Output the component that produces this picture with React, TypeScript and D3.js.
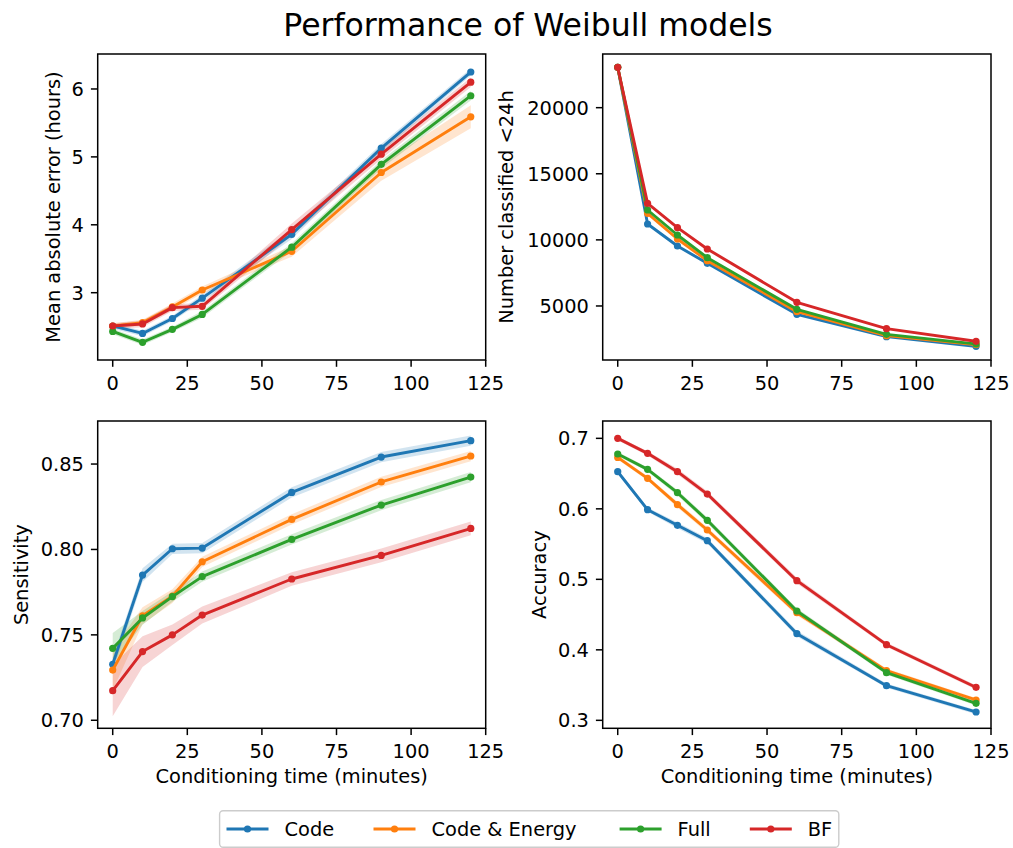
import React from 'react';
import * as d3 from 'd3';

const times = [0, 10, 20, 30, 60, 90, 120];
const seriesNames = ['Code', 'Code & Energy', 'Full', 'BF'];
const colors = ['#1f77b4', '#ff7f0e', '#2ca02c', '#d62728'];
const xTicks = [0, 25, 50, 75, 100, 125];

// Mean absolute error (hours)
const maeCode = [2.51, 2.40, 2.62, 2.92, 3.86, 5.13, 6.25];
const maeEnergy = [2.51, 2.56, 2.79, 3.04, 3.61, 4.77, 5.59];
const maeFull = [2.43, 2.27, 2.46, 2.68, 3.67, 4.89, 5.90];
const maeBF = [2.51, 2.54, 2.78, 2.80, 3.93, 5.04, 6.10];
const maeCodeErr = [0.04, 0.04, 0.04, 0.05, 0.07, 0.06, 0.05];
const maeEnergyErr = [0.04, 0.04, 0.05, 0.05, 0.08, 0.12, 0.17];
const maeFullErr = [0.04, 0.04, 0.04, 0.05, 0.06, 0.06, 0.07];
const maeBFErr = [0.04, 0.05, 0.05, 0.05, 0.09, 0.07, 0.07];
const maeTicks = [3, 4, 5, 6];

// Number classified <24h
const numCode = [23050, 11200, 9536, 8225, 4367, 2678, 1947];
const numEnergy = [23050, 12007, 10066, 8427, 4569, 2753, 2073];
const numFull = [23050, 12259, 10368, 8654, 4745, 2854, 2123];
const numBF = [23050, 12763, 10923, 9309, 5275, 3283, 2325];
const numErr = [60, 60, 60, 60, 50, 40, 40];
const numTicks = [5000, 10000, 15000, 20000];

// Sensitivity
const senCode = [0.7328, 0.7850, 0.8004, 0.8008, 0.8334, 0.8541, 0.8637];
const senEnergy = [0.7294, 0.7612, 0.7727, 0.7928, 0.8176, 0.8395, 0.8547];
const senFull = [0.7421, 0.7599, 0.7724, 0.7841, 0.8059, 0.8260, 0.8424];
const senBF = [0.7173, 0.7402, 0.7500, 0.7616, 0.7827, 0.7965, 0.8123];
const senCodeErr = [0.004, 0.004, 0.003, 0.003, 0.003, 0.003, 0.003];
const senEnergyErr = [0.012, 0.005, 0.004, 0.003, 0.003, 0.003, 0.003];
const senFullErr = [0.009, 0.004, 0.003, 0.003, 0.003, 0.003, 0.003];
const senBFErr = [0.015, 0.009, 0.006, 0.005, 0.004, 0.004, 0.004];
const senTicks = [0.70, 0.75, 0.80, 0.85];

// Accuracy
const accCode = [0.6527, 0.5988, 0.5766, 0.5548, 0.4229, 0.3492, 0.3118];
const accEnergy = [0.6730, 0.6433, 0.6059, 0.5700, 0.4527, 0.3705, 0.3288];
const accFull = [0.6778, 0.6560, 0.6229, 0.5837, 0.4551, 0.3676, 0.3241];
const accBF = [0.7000, 0.6787, 0.6527, 0.6210, 0.4981, 0.4073, 0.3468];
const accErr = [0.003, 0.003, 0.004, 0.004, 0.004, 0.003, 0.003];
const accTicks = [0.3, 0.4, 0.5, 0.6, 0.7];

const FONT = 'DejaVu Sans';
const TICK_FS = 19.4;

type Panel = {
  box: [number, number, number, number];
  yDomain: [number, number];
  yTicks: number[];
  fmt: (v: number) => string;
  yLabel: string;
  yLabelX: number;
  xLabel: boolean;
  series: number[][];
  errs: number[][];
};

const panels: Panel[] = [
  {
    box: [97.7, 54, 485.7, 360],
    yDomain: [2.009, 6.515],
    yTicks: maeTicks,
    fmt: (v) => d3.format('d')(v),
    yLabel: 'Mean absolute error (hours)',
    yLabelX: 59.5,
    xLabel: false,
    series: [maeCode, maeEnergy, maeFull, maeBF],
    errs: [maeCodeErr, maeEnergyErr, maeFullErr, maeBFErr],
  },
  {
    box: [602.7, 54, 991, 360],
    yDomain: [913, 24060],
    yTicks: numTicks,
    fmt: (v) => d3.format('d')(v),
    yLabel: 'Number classified <24h',
    yLabelX: 513,
    xLabel: false,
    series: [numCode, numEnergy, numFull, numBF],
    errs: [numErr, numErr, numErr, numErr],
  },
  {
    box: [97.7, 421, 485.7, 728.3],
    yDomain: [0.6953, 0.8752],
    yTicks: senTicks,
    fmt: (v) => d3.format('.2f')(v),
    yLabel: 'Sensitivity',
    yLabelX: 27.5,
    xLabel: true,
    series: [senCode, senEnergy, senFull, senBF],
    errs: [senCodeErr, senEnergyErr, senFullErr, senBFErr],
  },
  {
    box: [602.7, 421, 991, 728.3],
    yDomain: [0.2887, 0.7246],
    yTicks: accTicks,
    fmt: (v) => d3.format('.1f')(v),
    yLabel: 'Accuracy',
    yLabelX: 546,
    xLabel: true,
    series: [accCode, accEnergy, accFull, accBF],
    errs: [accErr, accErr, accErr, accErr],
  },
];

function PanelView({ p }: { p: Panel }) {
  const [l, t, r, b] = p.box;
  const x = d3.scaleLinear().domain([-5.03, 125]).range([l, r]);
  const y = d3.scaleLinear().domain(p.yDomain).range([b, t]);
  const line = d3
    .line<number>()
    .x((_, i) => x(times[i]))
    .y((d) => y(d));
  const cy = (t + b) / 2;
  const cx = (l + r) / 2;
  const clipId = `clip-${Math.round(l)}-${Math.round(t)}`;
  return (
    <g>
      <defs>
        <clipPath id={clipId}>
          <rect x={l} y={t} width={r - l} height={b - t} />
        </clipPath>
      </defs>
      <g clipPath={`url(#${clipId})`}>
        {p.series.map((s, si) => {
          const e = p.errs[si];
          const area = d3
            .area<number>()
            .x((_, i) => x(times[i]))
            .y0((d, i) => y(d - e[i]))
            .y1((d, i) => y(d + e[i]));
          return (
            <path key={'a' + si} d={area(s) || ''} fill={colors[si]} fillOpacity={0.2} stroke="none" />
          );
        })}
        {p.series.map((s, si) => (
          <g key={'l' + si}>
            <path d={line(s) || ''} fill="none" stroke={colors[si]} strokeWidth={2.9} strokeLinejoin="round" strokeLinecap="square" />
            {s.map((v, i) => (
              <circle key={i} cx={x(times[i])} cy={y(v)} r={3.6} fill={colors[si]} />
            ))}
          </g>
        ))}
      </g>
      <rect x={l} y={t} width={r - l} height={b - t} fill="none" stroke="#000" strokeWidth={1.5} />
      {xTicks.map((tk) => (
        <g key={'xt' + tk}>
          <line x1={x(tk)} x2={x(tk)} y1={b} y2={b + 6.8} stroke="#000" strokeWidth={1.5} />
          <text x={x(tk)} y={b + 29.5} textAnchor="middle" fontSize={TICK_FS} fontFamily={FONT} fill="#000">
            {tk}
          </text>
        </g>
      ))}
      {p.yTicks.map((tk) => (
        <g key={'yt' + tk}>
          <line x1={l - 6.8} x2={l} y1={y(tk)} y2={y(tk)} stroke="#000" strokeWidth={1.5} />
          <text x={l - 13.8} y={y(tk)} dy="0.36em" textAnchor="end" fontSize={TICK_FS} fontFamily={FONT} fill="#000">
            {p.fmt(tk)}
          </text>
        </g>
      ))}
      <text
        transform={`translate(${p.yLabelX},${cy}) rotate(-90)`}
        textAnchor="middle"
        fontSize={TICK_FS}
        fontFamily={FONT}
        fill="#000"
      >
        {p.yLabel}
      </text>
      {p.xLabel && (
        <text x={cx} y={783} textAnchor="middle" fontSize={TICK_FS} fontFamily={FONT} fill="#000">
          Conditioning time (minutes)
        </text>
      )}
    </g>
  );
}

const legendLineX = [226.5, 373.5, 619.6, 749.8];
const LEG_Y = 829;

function Legend() {
  return (
    <g>
      <rect x={219.6} y={810.8} width={619.2} height={36.4} rx={3.5} fill="#fff" fillOpacity={0.8} stroke="#cccccc" strokeWidth={1.4} />
      {seriesNames.map((n, i) => {
        const lx = legendLineX[i];
        return (
          <g key={n}>
            <line x1={lx} x2={lx + 42} y1={LEG_Y} y2={LEG_Y} stroke={colors[i]} strokeWidth={2.9} />
            <circle cx={lx + 21} cy={LEG_Y} r={3.6} fill={colors[i]} />
            <text x={lx + 58} y={LEG_Y + 7} fontSize={TICK_FS} fontFamily={FONT} fill="#000">
              {n}
            </text>
          </g>
        );
      })}
    </g>
  );
}

export default function App() {
  return (
    <svg
      width={1013}
      height={848}
      viewBox="0 0 1013 848"
      style={{ position: 'absolute', left: 0, top: 0, background: '#fff' }}
    >
      <rect x={0} y={0} width={1013} height={848} fill="#fff" />
      <text x={528} y={36} textAnchor="middle" fontSize={31.5} fontFamily={FONT} fill="#000">
        Performance of Weibull models
      </text>
      {panels.map((p, i) => (
        <PanelView key={i} p={p} />
      ))}
      <Legend />
    </svg>
  );
}
